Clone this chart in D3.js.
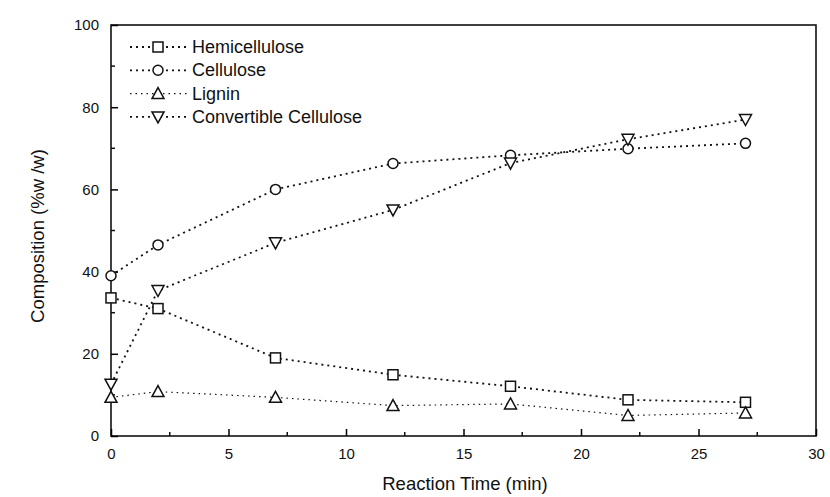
<!DOCTYPE html>
<html>
<head>
<meta charset="utf-8">
<script src="https://cdn.jsdelivr.net/npm/d3@7"></script>
<style>
  body { margin: 0; background: #fff; }
  text { font-family: "Liberation Sans", Arial, sans-serif; fill: #111; }
</style>
</head>
<body>
<svg id="chart" width="830" height="497"></svg>
<script>
// data
const times = [0, 2, 7, 12, 17, 22, 27];
const hemicellulose = [33.6, 31, 19, 14.9, 12.1, 8.8, 8.2];
const cellulose = [39, 46.5, 60, 66.3, 68.3, 69.9, 71.2];
const lignin = [9.4, 10.8, 9.4, 7.4, 7.8, 5, 5.6];
const convertible = [12.6, 35.4, 47, 55, 66.4, 72.2, 77];
const seriesNames = ["Hemicellulose", "Cellulose", "Lignin", "Convertible Cellulose"];
const xTicks = [0, 5, 10, 15, 20, 25, 30];
const yTicks = [0, 20, 40, 60, 80, 100];

const series = [
  { name: seriesNames[0], values: hemicellulose, shape: "square" },
  { name: seriesNames[1], values: cellulose, shape: "circle" },
  { name: seriesNames[2], values: lignin, shape: "up" },
  { name: seriesNames[3], values: convertible, shape: "down" }
];

const svg = d3.select("#chart");
const m = { left: 111, right: 816, top: 25, bottom: 436 };

const x = d3.scaleLinear().domain([0, 30]).range([m.left, m.right]);
const y = d3.scaleLinear().domain([0, 100]).range([m.bottom, m.top]);

// frame
svg.append("rect")
  .attr("x", m.left).attr("y", m.top)
  .attr("width", m.right - m.left).attr("height", m.bottom - m.top)
  .attr("fill", "none").attr("stroke", "#111").attr("stroke-width", 1.6);

// x axis, ticks pointing inward
const xAxis = svg.append("g").attr("transform", `translate(0,${m.bottom})`)
  .call(d3.axisBottom(x).tickValues(xTicks).tickSize(-7).tickPadding(12));
xAxis.selectAll(".tick line").attr("stroke-width", 1.5);
xAxis.append("g").selectAll("line")
  .data(d3.range(2.5, 30, 5)).enter().append("line")
  .attr("x1", d => x(d)).attr("x2", d => x(d))
  .attr("y1", 0).attr("y2", -4).attr("stroke", "#111").attr("stroke-width", 1.5);

// y axis
const yAxis = svg.append("g").attr("transform", `translate(${m.left},0)`)
  .call(d3.axisLeft(y).tickValues(yTicks).tickSize(-7).tickPadding(12));
yAxis.selectAll(".tick line").attr("stroke-width", 1.5);
yAxis.append("g").selectAll("line")
  .data(d3.range(10, 100, 20)).enter().append("line")
  .attr("y1", d => y(d)).attr("y2", d => y(d))
  .attr("x1", 0).attr("x2", 4).attr("stroke", "#111").attr("stroke-width", 1.5);

svg.selectAll(".domain").attr("stroke", "none");
svg.selectAll(".tick text").attr("font-size", 15).attr("fill", "#111");

// axis titles
svg.append("text")
  .attr("x", 465).attr("y", 490)
  .attr("text-anchor", "middle").attr("font-size", 18.5)
  .text("Reaction Time (min)");
svg.append("text")
  .attr("transform", `translate(44,236) rotate(-90)`)
  .attr("text-anchor", "middle").attr("font-size", 18.5)
  .text("Composition (%w /w)");

// marker drawing
function marker(g, shape, cx, cy) {
  if (shape === "square") {
    g.append("rect").attr("x", cx - 5).attr("y", cy - 5).attr("width", 10).attr("height", 10);
  } else if (shape === "circle") {
    g.append("circle").attr("cx", cx).attr("cy", cy).attr("r", 5);
  } else if (shape === "up") {
    g.append("path").attr("d", `M${cx},${cy - 6}L${cx + 6},${cy + 5}L${cx - 6},${cy + 5}Z`);
  } else {
    g.append("path").attr("d", `M${cx - 6},${cy - 5}L${cx + 6},${cy - 5}L${cx},${cy + 6}Z`);
  }
}

const line = d3.line().x(d => x(d[0])).y(d => y(d[1]));

series.forEach(s => {
  const pts = times.map((t, i) => [t, s.values[i]]);
  svg.append("path")
    .datum(pts)
    .attr("d", line)
    .attr("fill", "none")
    .attr("stroke", "#111")
    .attr("stroke-width", s.shape === "up" ? 1.2 : 1.8)
    .attr("stroke-dasharray", s.shape === "up" ? "1.5,4" : "2,4");
  const g = svg.append("g").attr("fill", "#fff").attr("stroke", "#111").attr("stroke-width", 1.5);
  pts.forEach(p => marker(g, s.shape, x(p[0]), y(p[1])));
});

// legend
const legend = svg.append("g");
series.forEach((s, i) => {
  const ly = 47 + i * 23.3;
  legend.append("line")
    .attr("x1", 130).attr("x2", 187).attr("y1", ly).attr("y2", ly)
    .attr("stroke", "#111")
    .attr("stroke-width", s.shape === "up" ? 1.2 : 1.8)
    .attr("stroke-dasharray", s.shape === "up" ? "1.5,4" : "2,4");
  const g = legend.append("g").attr("fill", "#fff").attr("stroke", "#111").attr("stroke-width", 1.5);
  marker(g, s.shape, 158, ly);
  legend.append("text")
    .attr("x", 192).attr("y", ly + 6)
    .attr("font-size", 18)
    .text(s.name);
});
</script>
</body>
</html>
